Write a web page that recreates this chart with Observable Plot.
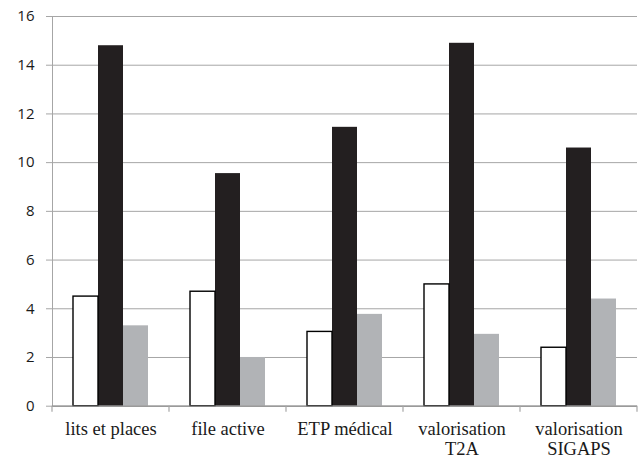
<!DOCTYPE html>
<html><head><meta charset="utf-8">
<script src="https://cdn.jsdelivr.net/npm/d3@7"></script>
<script src="https://cdn.jsdelivr.net/npm/@observablehq/plot@0.6"></script>
<style>body{margin:0;background:#fff}</style>
</head><body><div id="chart"></div>
<script>
const categories = ["lits et places", "file active", "ETP médical", "valorisation\nT2A", "valorisation\nSIGAPS"];
const seriesNames = ["série 1", "série 2", "série 3"];
const serie1 = [4.5, 4.7, 3.05, 5.0, 2.4];
const serie2 = [14.8, 9.55, 11.45, 14.9, 10.6];
const serie3 = [3.3, 2.0, 3.77, 2.95, 4.4];
const yTicks = [0, 2, 4, 6, 8, 10, 12, 14, 16];
const seriesColors = ["#ffffff", "#231f20", "#b1b3b6"];

const seriesValues = [serie1, serie2, serie3];
const rows = categories.flatMap((c, i) => seriesValues.map((s, j) => ({category: c, series: seriesNames[j], value: s[i]})));

const gridColor = "#a6a6a6";
const plot = Plot.plot({
  width: 641, height: 458,
  marginLeft: 50, marginRight: 3, marginTop: 16, marginBottom: 52.3,
  style: {background: "#fff"},
  fx: {domain: categories, padding: 0, label: null},
  x: {domain: seriesNames, paddingInner: 0, paddingOuter: 0.76, axis: null},
  y: {domain: [0, 16], label: null},
  color: {domain: seriesNames, range: seriesColors},
  marks: [
    Plot.gridY(yTicks, {stroke: gridColor, strokeOpacity: 1}),
    Plot.frame({anchor: "left", facetAnchor: "left", stroke: gridColor, strokeOpacity: 1}),
    Plot.barY(rows, {fx: "category", x: "series", y: "value", fill: "series"}),
    Plot.barY(rows.filter(d => d.series === seriesNames[0]), {fx: "category", x: "series", y: "value", fill: "none", stroke: "#000", strokeWidth: 1.4}),
    Plot.ruleY([0], {stroke: "#8c8c8c", strokeWidth: 1.3}),
    Plot.axisY(yTicks, {anchor: "left", tickSize: 6, tickPadding: 12, stroke: gridColor, fill: "#1a1a1a", fontFamily: "Open Sans", fontSize: 15}),
    Plot.axisFx({anchor: "bottom", tickSize: 0, tickPadding: 14, fill: "#1a1a1a", fontFamily: "Liberation Serif", fontSize: 18.5, lineHeight: 1.1})
  ]
});

// enforce tick label typography
d3.select(plot).selectAll('g[aria-label="y-axis tick label"]')
  .attr("font-size", 15).attr("font-family", "Open Sans");

// category boundary tick marks below the x axis, from the fx scale
const fxS = plot.scale("fx"), yS = plot.scale("y");
const y0 = yS.apply(0);
const bounds = categories.map(c => fxS.apply(c)).concat([fxS.apply(categories[categories.length - 1]) + fxS.step]);
d3.select(plot).append("g").attr("stroke", gridColor).attr("stroke-width", 1.2)
  .selectAll("line").data(bounds).join("line")
  .attr("x1", d => d).attr("x2", d => d).attr("y1", y0).attr("y2", y0 + 6);

document.getElementById("chart").append(plot);
</script>
</body></html>
